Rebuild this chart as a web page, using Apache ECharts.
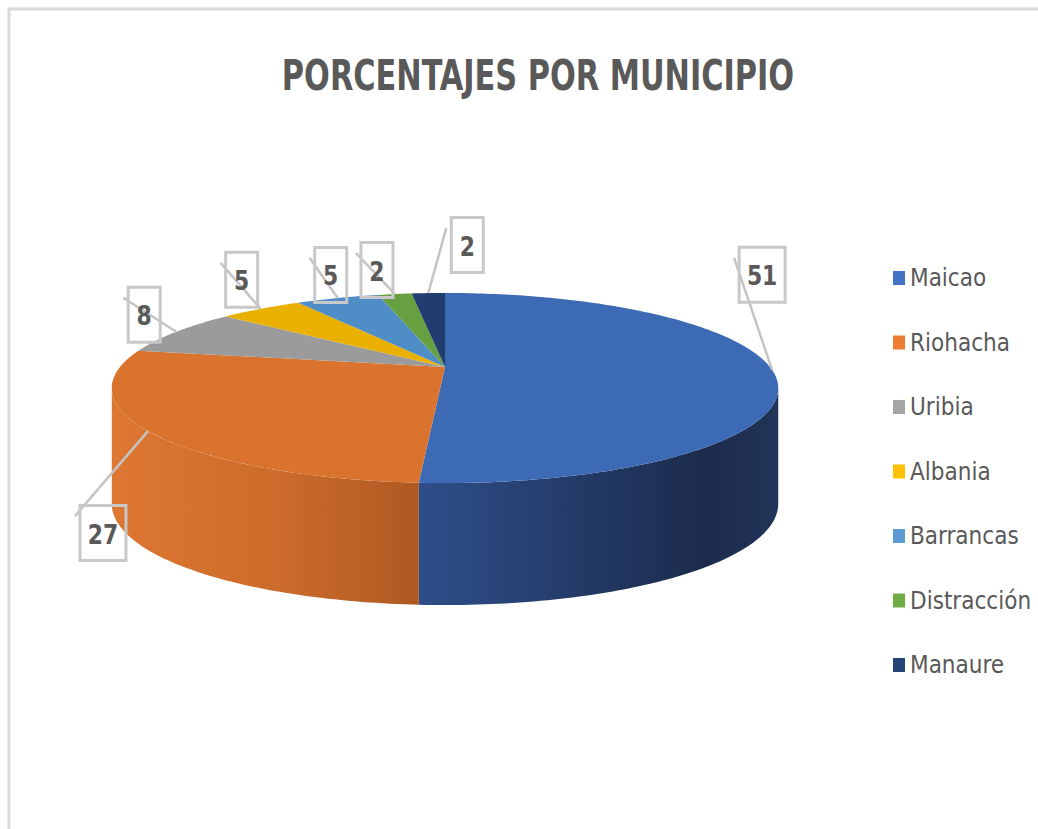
<!DOCTYPE html>
<html>
<head>
<meta charset="utf-8">
<title>Porcentajes por municipio</title>
<script src="https://cdn.jsdelivr.net/npm/echarts@6/dist/echarts.min.js"></script>
<style>
  html, body { margin: 0; padding: 0; background: #ffffff; }
  #chart { width: 1038px; height: 829px; }
</style>
</head>
<body>
<div id="chart"></div>
<script>
// Share of records per municipality (percent)
const municipios = ['Maicao', 'Riohacha', 'Uribia', 'Albania', 'Barrancas', 'Distracción', 'Manaure'];
const porcentajes = [51, 27, 8, 5, 5, 2, 2];

// Legend swatch colours and the lit top-face colours of each slice
const coloresLeyenda = ['#4472C4', '#ED7D31', '#A5A5A5', '#FFC000', '#5B9BD5', '#70AD47', '#264478'];
const coloresCara = ['#3D6AB5', '#D9732E', '#9B9B9B', '#EAB000', '#4F8DC7', '#66A040', '#213D6F'];
// Side-wall shading, light on the left to dark on the right
const coloresPared = [
  [[0, '#2E4E8A'], [0.8, '#1B2B4C'], [1, '#213459']],
  [[0, '#DE7732'], [0.55, '#CC6B2B'], [1, '#AE5922']],
  [[0, '#8A8A8A'], [1, '#6A6A6A']],
  [[0, '#D9A200'], [1, '#A87E00']],
  [[0, '#4680B8'], [1, '#34638F']],
  [[0, '#5C923A'], [1, '#44702B']],
  [[0, '#1E3764'], [1, '#152848']]
];
// Where each value box sits relative to its rim anchor (px)
const desplazamientoEtiqueta = [[-10, -95], [-45, 102], [-32, -17], [-19, -29], [-7, -23], [-18, -24], [39, -48]];

const FUENTE = '"Liberation Sans Narrow", "DejaVu Sans Condensed", sans-serif';

// Projected disc: apex, radii, perspective factor and wall height
const CX = 445, CY = 367, RX = 325, RY = 90.4, K = -0.221;
const depthAt = v => 114 + 8 * v;

function proj(theta, down) {
  const u = Math.sin(theta), v = -Math.cos(theta);
  const s = 1 / (1 + K * v);
  return [CX + RX * u * s, CY + RY * v * s + (down ? depthAt(v) : 0)];
}

const total = porcentajes.reduce((a, b) => a + b, 0);
const inicio = [];
porcentajes.reduce((acc, p, i) => { inicio[i] = acc; return acc + p; }, 0);
const angulo = p => p / total * Math.PI * 2;

// Visible part of the outer wall lies between the two silhouette angles
const thetaR = Math.acos(K);
const thetaL = Math.PI * 2 - thetaR;

function arc(a, b, down) {
  const pts = [];
  const n = Math.max(2, Math.ceil((b - a) / (Math.PI / 180)));
  for (let j = 0; j <= n; j++) pts.push(proj(a + (b - a) * j / n, down));
  return pts;
}

function renderSlice(i) {
  const a = angulo(inicio[i]);
  const b = angulo(inicio[i] + porcentajes[i]);
  const children = [];

  // outer wall
  const wa = Math.max(a, thetaR), wb = Math.min(b, thetaL);
  if (wb > wa) {
    const pts = arc(wa, wb, false).concat(arc(wa, wb, true).reverse());
    children.push({
      type: 'polygon',
      shape: { points: pts },
      style: { fill: new echarts.graphic.LinearGradient(0, 0, 1, 0, coloresPared[i].map(s => ({ offset: s[0], color: s[1] }))) }
    });
  }

  // top face
  children.push({
    type: 'polygon',
    shape: { points: [[CX, CY]].concat(arc(a, b, false)) },
    style: { fill: coloresCara[i] }
  });

  // value box with leader line
  const anchor = proj((a + b) / 2, false);
  const off = desplazamientoEtiqueta[i];
  const cx = anchor[0] + off[0], cy = anchor[1] + off[1];
  const txt = String(porcentajes[i]);
  const bw = txt.length > 1 ? 46 : 32, bh = 55;
  children.push({
    type: 'polyline',
    shape: { points: [anchor, [cx - bw / 2 - 5, cy - 17]] },
    style: { stroke: '#c4c4c4', lineWidth: 2.5, fill: null },
    z2: 10
  });
  children.push({
    type: 'rect',
    shape: { x: cx - bw / 2, y: cy - bh / 2, width: bw, height: bh },
    style: { fill: null, stroke: '#c8c8c8', lineWidth: 3 },
    z2: 11
  });
  children.push({
    type: 'text',
    x: cx, y: cy + 1,
    scaleX: 0.9,
    style: {
      text: txt, fill: '#595959', align: 'center', verticalAlign: 'middle',
      font: 'bold 27px ' + FUENTE
    },
    z2: 12
  });
  return { type: 'group', children };
}

const chart = echarts.init(document.getElementById('chart'), null, { renderer: 'svg' });

const series = municipios.map((name, i) => ({
  type: 'custom',
  name,
  coordinateSystem: 'none',
  silent: true,
  itemStyle: { color: coloresLeyenda[i] },
  data: [porcentajes[i]],
  renderItem: () => renderSlice(i)
}));

chart.setOption({
  animation: false,
  graphic: [
    {
      type: 'rect', silent: true,
      shape: { x: 9, y: 9, width: 1100, height: 900 },
      style: { fill: null, stroke: '#d9d9d9', lineWidth: 3 }
    },
    {
      type: 'text', silent: true,
      x: 538, y: 75,
      scaleX: 0.785,
      style: {
        text: 'PORCENTAJES POR MUNICIPIO', fill: '#595959',
        font: 'bold 43px ' + FUENTE,
        textAlign: 'center', textVerticalAlign: 'middle'
      }
    }
  ],
  legend: {
    orient: 'vertical',
    left: 888,
    top: 258,
    icon: 'rect',
    itemWidth: 12,
    itemHeight: 14,
    itemGap: 34.5,
    selectedMode: false,
    data: municipios.map((name, i) => ({ name, itemStyle: { color: coloresLeyenda[i] } })),
    textStyle: {
      color: '#595959',
      fontSize: 24,
      lineHeight: 30,
      fontFamily: FUENTE,
      padding: [0, 0, 0, 0]
    },
    itemStyle: { borderWidth: 0 }
  },
  series
});
</script>
</body>
</html>
